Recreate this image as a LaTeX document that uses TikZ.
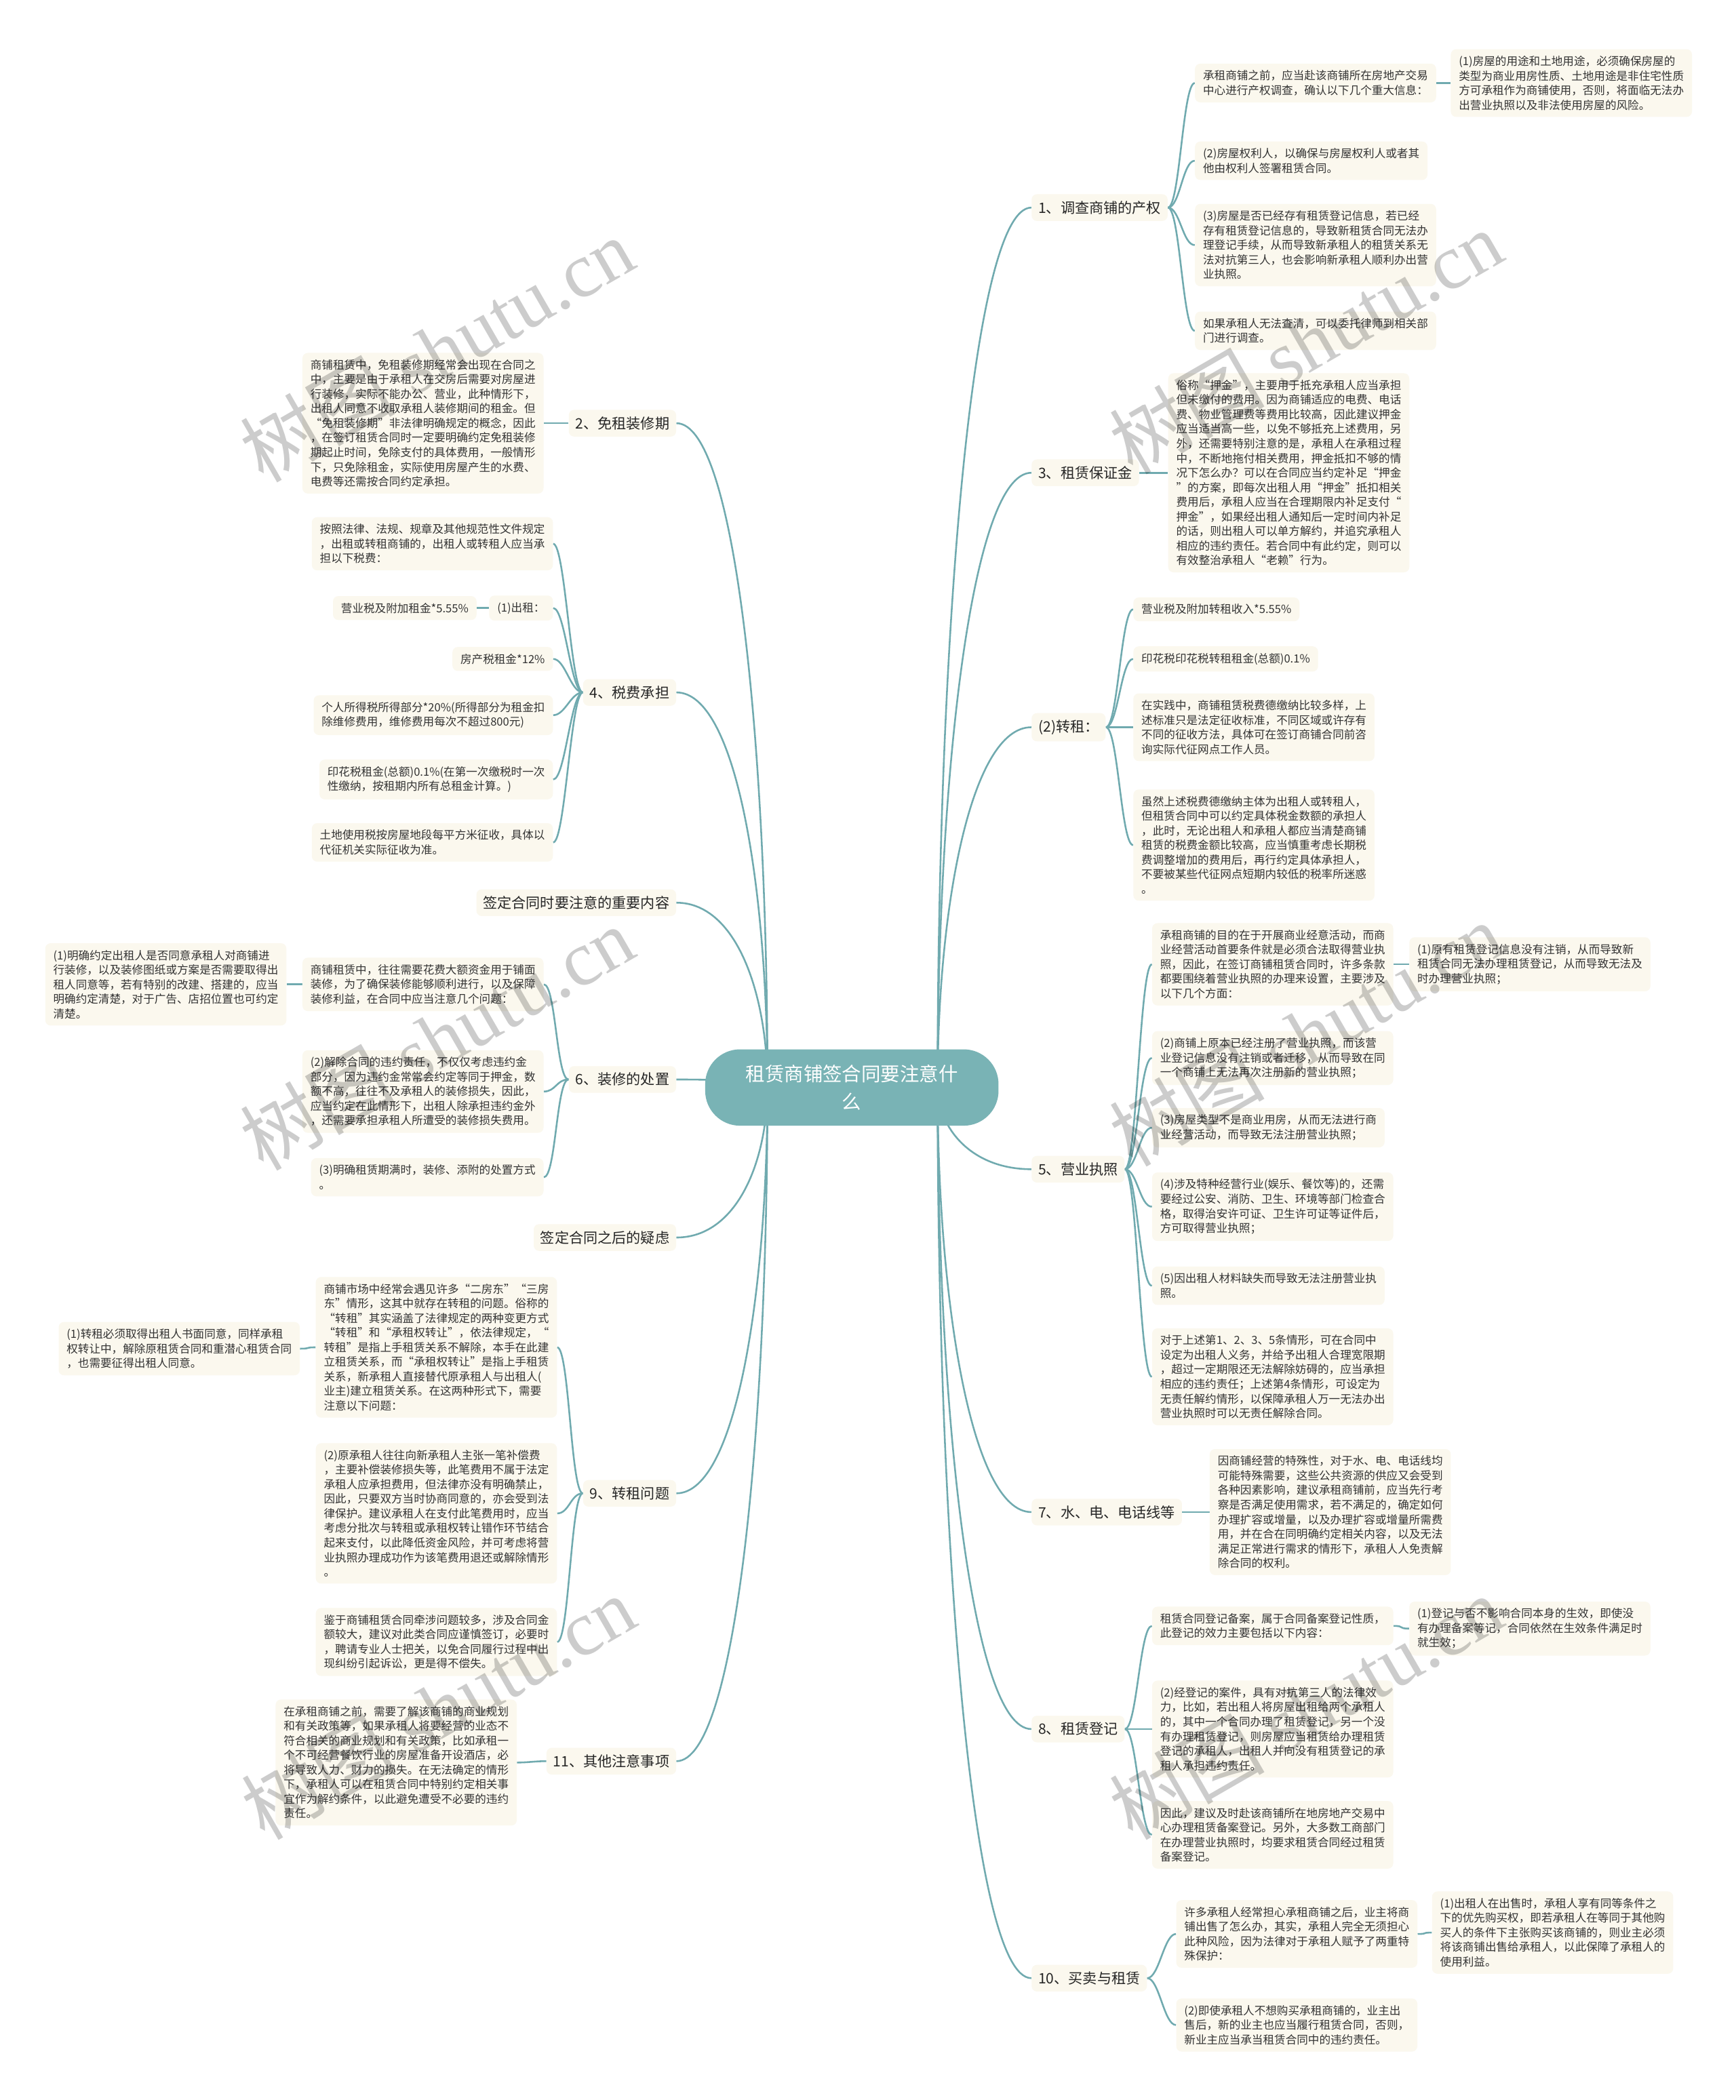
\documentclass[tikz,border=0pt]{standalone}
\usepackage{fontspec}
\setmainfont{Noto Sans CJK SC}
\newfontfamily\wmfont{Liberation Serif}
\usetikzlibrary{backgrounds, calc}
\definecolor{mytealfill}{RGB}{121, 179, 181}
\definecolor{mytealline}{RGB}{112, 170, 175}
\definecolor{mycream}{RGB}{251, 248, 238}

\tikzset{
  leaf/.style={fill=mycream, rounded corners=4pt, inner xsep=6pt, inner ysep=5pt, align=left, text=black!80, font=\fontsize{8.4}{10.9}\selectfont},
  branch/.style={fill=mycream, rounded corners=4pt, inner sep=5pt, text=black!85, font=\fontsize{10.7}{13}\selectfont},
  link/.style={draw=mytealline, line width=1.3pt},
  watermark/.style={text=black, text opacity=0.2, rotate=30, inner sep=0pt}
}
\newcommand{\linkright}[2]{\draw[link] (#1.east) .. controls +(9,0) and +(-9,0) .. (#2.west);}
\newcommand{\linkleft}[2]{\draw[link] (#1.west) .. controls +(-9,0) and +(9,0) .. (#2.east);}
\newcommand{\rootright}[1]{\draw[link] (rootR) .. controls ($(rootR)!0.5!(rootR |- #1.west)$) and ($(#1.west)+(-45,0)$) .. (#1.west);}
\newcommand{\rootleft}[1]{\draw[link] (rootL) .. controls ($(rootL)!0.5!(rootL |- #1.east)$) and ($(#1.east)+(45,0)$) .. (#1.east);}

\begin{document}
\begin{tikzpicture}[x=1pt, y=-1pt]
\useasboundingbox (0,0) rectangle (1296,1568);

% --- Centre ---
\node[fill=mytealfill, text=white, rounded corners=26pt, minimum width=219pt, minimum height=57pt, align=center, font=\fontsize{14.4}{21}\selectfont] (root) at (636,812) {租赁商铺签合同要注意什\\么};
\coordinate (rootR) at (700,811);
\coordinate (rootL) at (573,811);

% --- 1、调查商铺的产权 ---
\node[branch, anchor=west] (chanquan) at (770,155) {1、调查商铺的产权};
\node[leaf, anchor=west] (chanquanA) at (892,62) {承租商铺之前，应当赴该商铺所在房地产交易\\中心进行产权调查，确认以下几个重大信息：};
\node[leaf, anchor=west] (chanquanA1) at (1083,62) {(1)房屋的用途和土地用途，必须确保房屋的\\类型为商业用房性质、土地用途是非住宅性质\\方可承租作为商铺使用，否则，将面临无法办\\出营业执照以及非法使用房屋的风险。};
\node[leaf, anchor=west] (chanquanB) at (892,120) {(2)房屋权利人，以确保与房屋权利人或者其\\他由权利人签署租赁合同。};
\node[leaf, anchor=west] (chanquanC) at (892,183) {(3)房屋是否已经存有租赁登记信息，若已经\\存有租赁登记信息的，导致新租赁合同无法办\\理登记手续，从而导致新承租人的租赁关系无\\法对抗第三人，也会影响新承租人顺利办出营\\业执照。};
\node[leaf, anchor=west] (chanquanD) at (892,247) {如果承租人无法查清，可以委托律师到相关部\\门进行调查。};

% --- 3、租赁保证金 ---
\node[branch, anchor=west] (yajin) at (770,353) {3、租赁保证金};
\node[leaf, anchor=west] (yajinA) at (872,353) {俗称“押金”，主要用于抵充承租人应当承担\\但未缴付的费用。因为商铺适应的电费、电话\\费、物业管理费等费用比较高，因此建议押金\\应当适当高一些，以免不够抵充上述费用，另\\外，还需要特别注意的是，承租人在承租过程\\中，不断地拖付相关费用，押金抵扣不够的情\\况下怎么办？可以在合同应当约定补足“押金\\”的方案，即每次出租人用“押金”抵扣相关\\费用后，承租人应当在合理期限内补足支付“\\押金”，如果经出租人通知后一定时间内补足\\的话，则出租人可以单方解约，并追究承租人\\相应的违约责任。若合同中有此约定，则可以\\有效整治承租人“老赖”行为。};

% --- (2)转租 ---
\node[branch, anchor=west] (zhuanzu) at (770,543) {(2)转租：};
\node[leaf, anchor=west] (zhuanzuA) at (846,455) {营业税及附加转租收入*5.55\%};
\node[leaf, anchor=west] (zhuanzuB) at (846,492) {印花税印花税转租租金(总额)0.1\%};
\node[leaf, anchor=west] (zhuanzuC) at (846,543) {在实践中，商铺租赁税费德缴纳比较多样，上\\述标准只是法定征收标准，不同区域或许存有\\不同的征收方法，具体可在签订商铺合同前咨\\询实际代征网点工作人员。};
\node[leaf, anchor=west] (zhuanzuD) at (846,631) {虽然上述税费德缴纳主体为出租人或转租人，\\但租赁合同中可以约定具体税金数额的承担人\\，此时，无论出租人和承租人都应当清楚商铺\\租赁的税费金额比较高，应当慎重考虑长期税\\费调整增加的费用后，再行约定具体承担人，\\不要被某些代征网点短期内较低的税率所迷惑\\。};

% --- 5、营业执照 ---
\node[branch, anchor=west] (zhizhao) at (770,873) {5、营业执照};
\node[leaf, anchor=west] (zhizhaoA) at (860,720) {承租商铺的目的在于开展商业经意活动，而商\\业经营活动首要条件就是必须合法取得营业执\\照，因此，在签订商铺租赁合同时，许多条款\\都要围绕着营业执照的办理来设置，主要涉及\\以下几个方面：};
\node[leaf, anchor=west] (zhizhaoA1) at (1052,720) {(1)原有租赁登记信息没有注销，从而导致新\\租赁合同无法办理租赁登记，从而导致无法及\\时办理营业执照；};
\node[leaf, anchor=west] (zhizhaoB) at (860,790) {(2)商铺上原本已经注册了营业执照，而该营\\业登记信息没有注销或者迁移，从而导致在同\\一个商铺上无法再次注册新的营业执照；};
\node[leaf, anchor=west] (zhizhaoC) at (860,842) {(3)房屋类型不是商业用房，从而无法进行商\\业经营活动，而导致无法注册营业执照；};
\node[leaf, anchor=west] (zhizhaoD) at (860,901) {(4)涉及特种经营行业(娱乐、餐饮等)的，还需\\要经过公安、消防、卫生、环境等部门检查合\\格，取得治安许可证、卫生许可证等证件后，\\方可取得营业执照；};
\node[leaf, anchor=west] (zhizhaoE) at (860,960) {(5)因出租人材料缺失而导致无法注册营业执\\照。};
\node[leaf, anchor=west] (zhizhaoF) at (860,1028) {对于上述第1、2、3、5条情形，可在合同中\\设定为出租人义务，并给予出租人合理宽限期\\，超过一定期限还无法解除妨碍的，应当承担\\相应的违约责任；上述第4条情形，可设定为\\无责任解约情形，以保障承租人万一无法办出\\营业执照时可以无责任解除合同。};

% --- 7、水、电、电话线等 ---
\node[branch, anchor=west] (shuidian) at (770,1129) {7、水、电、电话线等};
\node[leaf, anchor=west] (shuidianA) at (903,1129) {因商铺经营的特殊性，对于水、电、电话线均\\可能特殊需要，这些公共资源的供应又会受到\\各种因素影响，建议承租商铺前，应当先行考\\察是否满足使用需求，若不满足的，确定如何\\办理扩容或增量，以及办理扩容或增量所需费\\用，并在合在同明确约定相关内容，以及无法\\满足正常进行需求的情形下，承租人人免责解\\除合同的权利。};

% --- 8、租赁登记 ---
\node[branch, anchor=west] (dengji) at (770,1291) {8、租赁登记};
\node[leaf, anchor=west] (dengjiA) at (860,1214) {租赁合同登记备案，属于合同备案登记性质，\\此登记的效力主要包括以下内容：};
\node[leaf, anchor=west] (dengjiA1) at (1052,1216) {(1)登记与否不影响合同本身的生效，即使没\\有办理备案等记，合同依然在生效条件满足时\\就生效；};
\node[leaf, anchor=west] (dengjiB) at (860,1291) {(2)经登记的案件，具有对抗第三人的法律效\\力，比如，若出租人将房屋出租给两个承租人\\的，其中一个合同办理了租赁登记，另一个没\\有办理租赁登记，则房屋应当租赁给办理租赁\\登记的承租人，出租人并向没有租赁登记的承\\租人承担违约责任。};
\node[leaf, anchor=west] (dengjiC) at (860,1370) {因此，建议及时赴该商铺所在地房地产交易中\\心办理租赁备案登记。另外，大多数工商部门\\在办理营业执照时，均要求租赁合同经过租赁\\备案登记。};

% --- 10、买卖与租赁 ---
\node[branch, anchor=west] (maimai) at (770,1477) {10、买卖与租赁};
\node[leaf, anchor=west] (maimaiA) at (878,1444) {许多承租人经常担心承租商铺之后，业主将商\\铺出售了怎么办，其实，承租人完全无须担心\\此种风险，因为法律对于承租人赋予了两重特\\殊保护：};
\node[leaf, anchor=west] (maimaiA1) at (1069,1443) {(1)出租人在出售时，承租人享有同等条件之\\下的优先购买权，即若承租人在等同于其他购\\买人的条件下主张购买该商铺的，则业主必须\\将该商铺出售给承租人，以此保障了承租人的\\使用利益。};
\node[leaf, anchor=west] (maimaiB) at (878,1512) {(2)即使承租人不想购买承租商铺的，业主出\\售后，新的业主也应当履行租赁合同，否则，\\新业主应当承当租赁合同中的违约责任。};

% --- 2、免租装修期 ---
\node[branch, anchor=east] (mianzu) at (505,316) {2、免租装修期};
\node[leaf, anchor=east] (mianzuA) at (406,316) {商铺租赁中，免租装修期经常会出现在合同之\\中，主要是由于承租人在交房后需要对房屋进\\行装修，实际不能办公、营业，此种情形下，\\出租人同意不收取承租人装修期间的租金。但\\“免租装修期”非法律明确规定的概念，因此\\，在签订租赁合同时一定要明确约定免租装修\\期起止时间，免除支付的具体费用，一般情形\\下，只免除租金，实际使用房屋产生的水费、\\电费等还需按合同约定承担。};

% --- 4、税费承担 ---
\node[branch, anchor=east] (shuifei) at (505,517) {4、税费承担};
\node[leaf, anchor=east] (shuifeiA) at (413,406) {按照法律、法规、规章及其他规范性文件规定\\，出租或转租商铺的，出租人或转租人应当承\\担以下税费：};
\node[leaf, anchor=east] (shuifeiB) at (413,454) {(1)出租：};
\node[leaf, anchor=east] (shuifeiB1) at (356,454) {营业税及附加租金*5.55\%};
\node[leaf, anchor=east] (shuifeiC) at (413,492) {房产税租金*12\%};
\node[leaf, anchor=east] (shuifeiD) at (413,534) {个人所得税所得部分*20\%(所得部分为租金扣\\除维修费用，维修费用每次不超过800元)};
\node[leaf, anchor=east] (shuifeiE) at (413,582) {印花税租金(总额)0.1\%(在第一次缴税时一次\\性缴纳，按租期内所有总租金计算。)};
\node[leaf, anchor=east] (shuifeiF) at (413,629) {土地使用税按房屋地段每平方米征收，具体以\\代征机关实际征收为准。};

% --- 签定合同时 ---
\node[branch, anchor=east] (qianding) at (505,674) {签定合同时要注意的重要内容};

% --- 6、装修的处置 ---
\node[branch, anchor=east] (zhuangxiu) at (505,806) {6、装修的处置};
\node[leaf, anchor=east] (zhuangxiuA) at (406,735) {商铺租赁中，往往需要花费大额资金用于铺面\\装修，为了确保装修能够顺利进行，以及保障\\装修利益，在合同中应当注意几个问题：};
\node[leaf, anchor=east] (zhuangxiuA1) at (214,735) {(1)明确约定出租人是否同意承租人对商铺进\\行装修，以及装修图纸或方案是否需要取得出\\租人同意等，若有特别的改建、搭建的，应当\\明确约定清楚，对于广告、店招位置也可约定\\清楚。};
\node[leaf, anchor=east] (zhuangxiuB) at (406,815) {(2)解除合同的违约责任，不仅仅考虑违约金\\部分，因为违约金常常会约定等同于押金，数\\额不高，往往不及承租人的装修损失，因此，\\应当约定在此情形下，出租人除承担违约金外\\，还需要承担承租人所遭受的装修损失费用。};
\node[leaf, anchor=east] (zhuangxiuC) at (406,879) {(3)明确租赁期满时，装修、添附的处置方式\\。};

% --- 签定合同之后 ---
\node[branch, anchor=east] (yilv) at (505,924) {签定合同之后的疑虑};

% --- 9、转租问题 ---
\node[branch, anchor=east] (zhuanrang) at (505,1115) {9、转租问题};
\node[leaf, anchor=east] (zhuanrangA) at (416,1006) {商铺市场中经常会遇见许多“二房东”“三房\\东”情形，这其中就存在转租的问题。俗称的\\“转租”其实涵盖了法律规定的两种变更方式\\“转租”和“承租权转让”，依法律规定，“\\转租”是指上手租赁关系不解除，本手在此建\\立租赁关系，而“承租权转让”是指上手租赁\\关系，新承租人直接替代原承租人与出租人(\\业主)建立租赁关系。在这两种形式下，需要\\注意以下问题：};
\node[leaf, anchor=east] (zhuanrangA1) at (224,1007) {(1)转租必须取得出租人书面同意，同样承租\\权转让中，解除原租赁合同和重潜心租赁合同\\，也需要征得出租人同意。};
\node[leaf, anchor=east] (zhuanrangB) at (416,1130) {(2)原承租人往往向新承租人主张一笔补偿费\\，主要补偿装修损失等，此笔费用不属于法定\\承租人应承担费用，但法律亦没有明确禁止，\\因此，只要双方当时协商同意的，亦会受到法\\律保护。建议承租人在支付此笔费用时，应当\\考虑分批次与转租或承租权转让错作环节结合\\起来支付，以此降低资金风险，并可考虑将营\\业执照办理成功作为该笔费用退还或解除情形\\。};
\node[leaf, anchor=east] (zhuanrangC) at (416,1226) {鉴于商铺租赁合同牵涉问题较多，涉及合同金\\额较大，建议对此类合同应谨慎签订，必要时\\，聘请专业人士把关，以免合同履行过程中出\\现纠纷引起诉讼，更是得不偿失。};

% --- 11、其他注意事项 ---
\node[branch, anchor=east] (qita) at (505,1315) {11、其他注意事项};
\node[leaf, anchor=east] (qitaA) at (386,1316) {在承租商铺之前，需要了解该商铺的商业规划\\和有关政策等，如果承租人将要经营的业态不\\符合相关的商业规划和有关政策，比如承租一\\个不可经营餐饮行业的房屋准备开设酒店，必\\将导致人力、财力的损失。在无法确定的情形\\下，承租人可以在租赁合同中特别约定相关事\\宜作为解约条件，以此避免遭受不必要的违约\\责任。};

% --- Links ---
\begin{scope}[on background layer]
\fill[white] (0,0) rectangle (1296,1568);
\foreach \b in {chanquan, yajin, zhuanzu, zhizhao, shuidian, dengji, maimai} {\rootright{\b}}
\foreach \b in {mianzu, shuifei, qianding, zhuangxiu, yilv, zhuanrang, qita} {\rootleft{\b}}
\foreach \c in {chanquanA, chanquanB, chanquanC, chanquanD} {\linkright{chanquan}{\c}}
\linkright{chanquanA}{chanquanA1}
\linkright{yajin}{yajinA}
\foreach \c in {zhuanzuA, zhuanzuB, zhuanzuC, zhuanzuD} {\linkright{zhuanzu}{\c}}
\foreach \c in {zhizhaoA, zhizhaoB, zhizhaoC, zhizhaoD, zhizhaoE, zhizhaoF} {\linkright{zhizhao}{\c}}
\linkright{zhizhaoA}{zhizhaoA1}
\linkright{shuidian}{shuidianA}
\foreach \c in {dengjiA, dengjiB, dengjiC} {\linkright{dengji}{\c}}
\linkright{dengjiA}{dengjiA1}
\foreach \c in {maimaiA, maimaiB} {\linkright{maimai}{\c}}
\linkright{maimaiA}{maimaiA1}
\linkleft{mianzu}{mianzuA}
\foreach \c in {shuifeiA, shuifeiB, shuifeiC, shuifeiD, shuifeiE, shuifeiF} {\linkleft{shuifei}{\c}}
\linkleft{shuifeiB}{shuifeiB1}
\foreach \c in {zhuangxiuA, zhuangxiuB, zhuangxiuC} {\linkleft{zhuangxiu}{\c}}
\linkleft{zhuangxiuA}{zhuangxiuA1}
\foreach \c in {zhuanrangA, zhuanrangB, zhuanrangC} {\linkleft{zhuanrang}{\c}}
\linkleft{zhuanrangA}{zhuanrangA1}
\linkleft{qita}{qitaA}
\end{scope}

% --- Watermarks ---
\foreach \wx/\wy [count=\i] in {326/261, 975/255, 326/775, 975/772, 327/1275, 975/1275}
  \node[watermark, font=\fontsize{58}{58}\selectfont] (mark\i) at (\wx,\wy) {树图 {\wmfont shutu.cn}};
\end{tikzpicture}
\end{document}
